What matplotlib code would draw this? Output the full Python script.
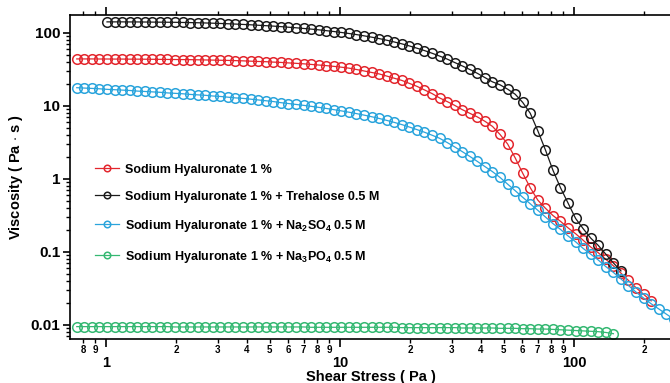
import matplotlib
matplotlib.use('Agg')
import matplotlib.pyplot as plt
from matplotlib.ticker import LogLocator, FixedLocator, FuncFormatter, NullFormatter

plt.rcParams['font.family'] = ['Liberation Sans', 'DejaVu Sans']
plt.rcParams['font.weight'] = 'bold'
plt.rcParams['mathtext.fontset'] = 'custom'
plt.rcParams['mathtext.rm'] = 'Liberation Sans:bold'
plt.rcParams['mathtext.bf'] = 'Liberation Sans:bold'

# shear stress steps (Pa), shared by all series
stress = [0.750, 0.808, 0.870, 0.937, 1.010, 1.088, 1.172, 1.262, 1.360, 1.465,
          1.578, 1.700, 1.831, 1.972, 2.125, 2.289, 2.466, 2.656, 2.861, 3.082,
          3.320, 3.576, 3.852, 4.150, 4.470, 4.815, 5.187, 5.587, 6.019, 6.483,
          6.984, 7.523, 8.104, 8.730, 9.404, 10.13, 10.91, 11.75, 12.66, 13.64,
          14.69, 15.83, 17.05, 18.37, 19.78, 21.31, 22.96, 24.73, 26.64, 28.70,
          30.91, 33.30, 35.87, 38.64, 41.62, 44.84, 48.30, 52.03, 56.05, 60.37,
          65.04, 70.06, 75.47, 81.28, 87.57, 94.32, 101.6, 109.4, 117.9, 127.0,
          136.8, 147.4, 158.8, 171.0, 184.2, 198.5, 213.8, 230.3, 248.1, 267.3]

# viscosity (Pa.s)
visc_sh = [44.1, 44.1, 44.1, 44.0, 44.0, 43.9, 43.9, 43.8, 43.8, 43.7,
           43.6, 43.5, 43.4, 43.3, 43.2, 43.1, 42.9, 42.7, 42.5, 42.3,
           42.1, 41.8, 41.5, 41.1, 40.7, 40.4, 39.9, 39.5, 38.9, 38.4,
           37.8, 37.1, 36.4, 35.7, 34.9, 34.0, 33.0, 31.6, 30.2, 28.8,
           27.5, 25.7, 24.0, 22.4, 20.4, 18.6, 16.6, 14.8, 12.9, 11.5,
           10.2, 8.91, 7.94, 7.08, 6.17, 5.25, 4.07, 3.02, 1.95, 1.20,
           0.759, 0.513, 0.398, 0.316, 0.263, 0.214, 0.178, 0.145, 0.117, 0.0977,
           0.0794, 0.0646, 0.0513, 0.0407, 0.0324, 0.0263, 0.0214]

visc_treh = [141.9, 141.9, 141.9, 141.6, 141.6, 141.3, 140.9, 140.6, 140.3, 140.0,
             139.3, 138.7, 138.0, 137.1, 136.1, 134.9, 133.7, 132.4, 130.9, 129.4,
             127.6, 125.9, 124.2, 122.2, 119.9, 117.8, 115.3, 113.0, 110.4, 107.6,
             104.7, 101.6, 98.4, 95.1, 91.4, 87.7, 83.8, 79.6, 75.3, 71.0,
             66.5, 61.9, 57.4, 52.8, 48.3, 43.9, 39.4, 35.4, 31.6, 28.0,
             24.5, 21.4, 19.5, 17.0, 14.5, 11.2, 7.94, 4.57, 2.51, 1.32,
             0.759, 0.468, 0.288, 0.209, 0.155, 0.123, 0.0933, 0.0708, 0.0550]
treh_start = 4

visc_so4 = [17.8, 17.6, 17.4, 17.2, 16.9, 16.7, 16.5, 16.3, 16.0, 15.8,
            15.6, 15.4, 15.1, 14.9, 14.7, 14.4, 14.2, 14.0, 13.7, 13.5,
            13.2, 12.9, 12.7, 12.4, 12.1, 11.8, 11.5, 11.1, 10.8, 10.5,
            10.2, 9.89, 9.57, 9.25, 8.91, 8.57, 8.22, 7.87, 7.50, 7.13,
            6.75, 6.35, 5.96, 5.56, 5.15, 4.75, 4.37, 3.98, 3.61, 3.16,
            2.75, 2.37, 2.04, 1.74, 1.48, 1.26, 1.05, 0.851, 0.692, 0.562,
            0.457, 0.372, 0.302, 0.245, 0.204, 0.166, 0.138, 0.112, 0.0933, 0.0776,
            0.0631, 0.0525, 0.0427, 0.0347, 0.0282, 0.0234, 0.0195, 0.0166, 0.0141, 0.0120]

visc_po4 = [0.0095, 0.0095, 0.0095, 0.0095, 0.0095, 0.0095, 0.0095, 0.0095, 0.0095, 0.0095,
            0.0095, 0.0095, 0.0095, 0.0094, 0.0094, 0.0094, 0.0094, 0.0094, 0.0094, 0.0094,
            0.0094, 0.0094, 0.0094, 0.0094, 0.0094, 0.0094, 0.0094, 0.0094, 0.0094, 0.0094,
            0.0094, 0.0093, 0.0093, 0.0093, 0.0093, 0.0093, 0.0093, 0.0093, 0.0093, 0.0093,
            0.0093, 0.0093, 0.0093, 0.0092, 0.0092, 0.0092, 0.0092, 0.0092, 0.0092, 0.0092,
            0.0092, 0.0091, 0.0091, 0.0091, 0.0091, 0.0091, 0.0090, 0.0090, 0.0090, 0.0089,
            0.0089, 0.0088, 0.0088, 0.0087, 0.0086, 0.0085, 0.0084, 0.0083, 0.0082, 0.0081,
            0.0079, 0.0076]

labels = ['Sodium Hyaluronate 1 %',
          'Sodium Hyaluronate 1 % + Trehalose 0.5 M',
          r'Sodium Hyaluronate 1 % + Na$_{2}$SO$_{4}$ 0.5 M',
          r'Sodium Hyaluronate 1 % + Na$_{3}$PO$_{4}$ 0.5 M']
colors = ['#e3262d', '#1b1b1b', '#2aa4dc', '#35b872']

fig = plt.figure(figsize=(6.7, 3.83), dpi=100)
ax = fig.add_axes([0.1045, 0.1149, 0.8985, 0.8460])

series = [(stress[:len(visc_sh)], visc_sh),
          (stress[treh_start:treh_start + len(visc_treh)], visc_treh),
          (stress[:len(visc_so4)], visc_so4),
          (stress[:len(visc_po4)], visc_po4)]
for (xs, ys), lab, c in zip(series, labels, colors):
    ax.plot(xs, ys, '-o', color=c, lw=0.9, ms=6.9, mew=1.1, mfc='none', label=lab)

ax.set_xscale('log')
ax.set_yscale('log')
ax.set_xlim(0.7018, 262.4)
ax.set_ylim(0.00643, 176.4)

for s in ['top', 'bottom', 'left']:
    ax.spines[s].set_linewidth(1.2)
ax.spines['right'].set_visible(False)

# x axis: decade labels large, in-between digits small
ax.xaxis.set_major_locator(FixedLocator([1, 10, 100]))
ax.xaxis.set_major_formatter(FuncFormatter(lambda v, p: f'{v:g}'))
ax.xaxis.set_minor_locator(LogLocator(base=10, subs=range(2, 10), numticks=20))
ax.xaxis.set_minor_formatter(FuncFormatter(lambda v, p: f'{v / 10 ** int(f"{v:e}".split("e")[1]):.0f}'))
ax.tick_params(axis='x', which='major', direction='out', length=6, width=1.2,
               top=True, labelsize=10.5, pad=6)
ax.tick_params(axis='x', which='minor', direction='out', length=3, width=1.0,
               top=True, labelsize=7, pad=1.5)

ax.yaxis.set_major_locator(LogLocator(base=10, numticks=10))
ax.yaxis.set_major_formatter(FuncFormatter(lambda v, p: f'{v:g}'))
ax.yaxis.set_minor_locator(LogLocator(base=10, subs=range(2, 10), numticks=20))
ax.yaxis.set_minor_formatter(NullFormatter())
ax.tick_params(axis='y', which='major', direction='out', length=5, width=1.2,
               labelsize=11, pad=2)
ax.tick_params(axis='y', which='minor', direction='out', length=3, width=1.0)

ax.set_xlabel('Shear Stress ( Pa )', fontsize=10.5, fontweight='bold', labelpad=0)
ax.set_ylabel('Viscosity ( Pa $\\cdot$ s )', fontsize=10.5, fontweight='bold', labelpad=4)

ax.legend(loc='upper left', bbox_to_anchor=(0.0415, 0.541), frameon=False,
          fontsize=9, handlelength=1.9, handletextpad=0.5, labelspacing=1.2,
          borderpad=0, borderaxespad=0, markerscale=0.68)

fig.savefig('out.png', dpi=100)
